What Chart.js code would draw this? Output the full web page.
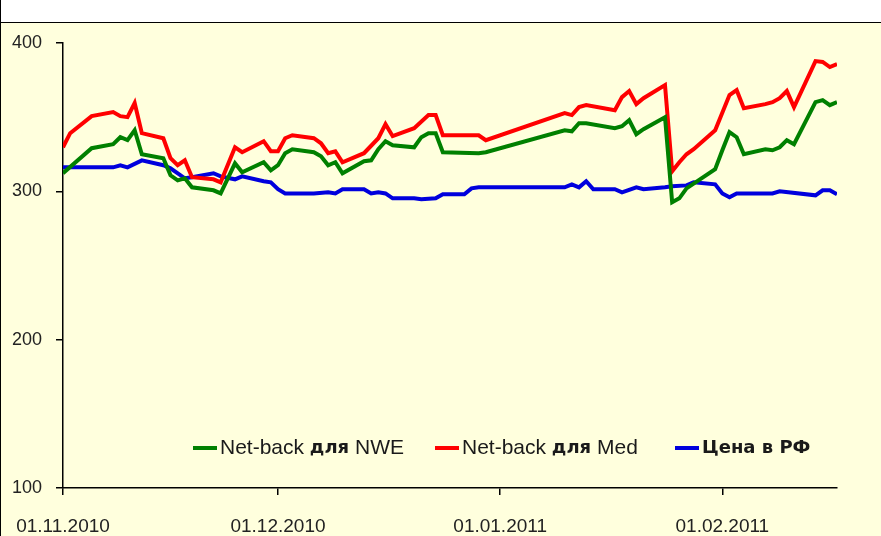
<!DOCTYPE html>
<html>
<head>
<meta charset="utf-8">
<script src="https://cdn.jsdelivr.net/npm/chart.js@4"></script>
<style>
  html, body { margin: 0; padding: 0; background: #fff; }
  #wrap { position: relative; width: 881px; height: 536px; overflow: hidden; }
  #lborder { position: absolute; left: 0; top: 0; width: 1px; height: 536px; background: #000; }
  #top { position: absolute; left: 1px; top: 0; width: 880px; height: 22px; background: #fff; border-bottom: 1px solid #000; }
  #plot { position: absolute; left: 1px; top: 23px; width: 880px; height: 513px; background: #FFFFDD; }
  canvas { display: block; }
</style>
</head>
<body>
<div id="wrap">
  <div id="lborder"></div>
  <div id="top"></div>
  <div id="plot"><canvas id="c" width="880" height="513" style="width:880px;height:513px"></canvas></div>
</div>
<script>
// ---- Data (x = days since 01.11.2010) ----
const nweDays = [0,4,7,8,9,10,11,14,15,16,17,18,21,22,24,25,28,29,30,31,32,35,36,37,38,39,42,43,44,45,46,49,50,51,52,53,58,59,70,71,72,73,77,78,79,80,81,84,85,86,87,91,92,93,94,95,98,99,100,101,102,105,106,107,108];
const nweValues = [312.2,329.1,331.8,336.5,334.5,341.2,325,322.3,310.8,307.4,308.8,302.7,300.7,298.6,318.9,312.8,319.6,314.2,317.6,325.7,328.4,326.4,323.6,317.6,319.6,312.2,320.3,320.9,328.4,333.8,331.1,329.7,336.5,339.2,339.2,326.4,325.7,326.4,341.2,340.5,345.9,345.9,342.6,343.9,348,338.5,341.9,350,292.6,295.3,302,314.9,327.7,339.9,336.5,325,328.4,327.7,329.7,334.5,331.8,360.1,361.5,358.1,360.1];

const medDays = [0,1,4,7,8,9,10,11,14,15,16,17,18,21,22,24,25,28,29,30,31,32,35,36,37,38,39,42,44,45,46,49,51,52,53,58,59,70,71,72,73,77,78,79,80,81,84,85,86,87,88,91,93,94,95,98,99,100,101,102,105,106,107,108];
const medValues = [329.7,339.2,350.7,353.4,350.7,350,359.5,339.2,335.8,322.3,317.6,320.9,309.5,308.1,306.1,329.7,326.4,333.8,327,327,335.8,337.8,335.8,332.4,325.7,327,319.6,325.7,335.8,345.3,337.2,342.6,351.4,351.4,337.8,337.8,334.5,352.7,351.4,356.8,358.1,354.7,363.5,367.6,358.8,362.8,371.6,313.5,319.6,325,328.4,341.2,364.9,368.2,356.1,358.8,360.1,362.8,367.6,356.8,387.8,387.2,383.8,385.8];

const rfDays = [0,7,8,9,11,14,15,17,18,21,22,24,25,28,29,30,31,35,37,38,39,42,43,44,45,46,49,50,52,53,56,57,58,70,71,72,73,74,77,78,80,81,84,85,87,88,91,92,93,94,99,100,105,106,107,108];
const rfValues = [316.2,316.2,317.6,316.2,320.9,317.6,315.5,308.8,309.5,312.2,310.1,308.1,310.1,306.8,306.1,301.4,298.6,298.6,299.3,298.6,301.4,301.4,298.6,299.3,298.6,295.3,295.3,294.6,295.3,298,298,302,302.7,302.7,304.7,302.7,306.8,301.4,301.4,299.3,302.7,301.4,302.7,303.4,304,306.1,304.7,298.6,296,298.6,298.6,300,297.3,300.7,300.7,298];

const tickDays = [0, 30, 61, 92];
const tickLabels = ['01.11.2010', '01.12.2010', '01.01.2011', '01.02.2011'];
const yTicks = [100, 200, 300, 400];

const seriesNames = ['Net-back для NWE', 'Net-back для Med', 'Цена в РФ'];
// legend text parts: [text, bold]
const legendParts = [
  [['Net-back ', false], ['для', true], [' NWE', false]],
  [['Net-back ', false], ['для', true], [' Med', false]],
  [['Цена в РФ', true]]
];
const colors = ['#008000', '#FF0000', '#0000DD'];

function pts(d, v) { return d.map((x, i) => ({ x: x, y: v[i] })); }

const legendPlugin = {
  id: 'mixedLegend',
  afterDraw(chart) {
    const ctx = chart.ctx;
    const starts = [192, 434, 674];
    const y = 425;
    ctx.save();
    chart.data.datasets.forEach((ds, i) => {
      const x0 = starts[i];
      ctx.strokeStyle = ds.borderColor;
      ctx.lineWidth = 4;
      ctx.beginPath();
      ctx.moveTo(x0, y);
      ctx.lineTo(x0 + 24, y);
      ctx.stroke();
      let x = x0 + 27;
      ctx.textBaseline = 'middle';
      ctx.fillStyle = '#1a1a1a';
      legendParts[i].forEach(([t, b]) => {
        ctx.font = b ? 'bold 18px "DejaVu Sans"' : '21px "Liberation Sans"';
        ctx.fillText(t, x, y);
        x += ctx.measureText(t).width;
      });
    });
    ctx.restore();
  }
};

new Chart(document.getElementById('c'), {
  type: 'line',
  data: {
    datasets: [
      { label: seriesNames[0], data: pts(nweDays, nweValues), borderColor: colors[0] },
      { label: seriesNames[1], data: pts(medDays, medValues), borderColor: colors[1] },
      { label: seriesNames[2], data: pts(rfDays, rfValues), borderColor: colors[2] }
    ].map(d => Object.assign(d, { borderWidth: 4, pointRadius: 0, tension: 0, fill: false, backgroundColor: d.borderColor }))
  },
  options: {
    responsive: false,
    animation: false,
    layout: { padding: { top: 20, right: 44, left: 0, bottom: 0 } },
    plugins: { legend: { display: false }, tooltip: { enabled: false }, title: { display: false } },
    scales: {
      x: {
        type: 'linear',
        min: tickDays[0],
        max: 108,
        afterBuildTicks: (s) => { s.ticks = tickDays.map(v => ({ value: v })); },
        afterFit: (s) => { s.height = 48; s.paddingLeft = 0; s.paddingRight = 0; },
        ticks: {
          autoSkip: false,
          maxRotation: 0,
          padding: 20,
          color: '#222',
          font: { family: 'Liberation Sans', size: 19 },
          callback: (v) => { const i = tickDays.indexOf(v); return i >= 0 ? tickLabels[i] : ''; }
        },
        grid: { drawOnChartArea: false, drawTicks: true, tickLength: 7, color: '#000', lineWidth: 1.5 },
        border: { display: true, color: '#000', width: 1.5 }
      },
      y: {
        min: 100,
        max: 400,
        afterBuildTicks: (s) => { s.ticks = yTicks.map(v => ({ value: v })); },
        afterFit: (s) => { s.width = 62; s.paddingTop = 0; s.paddingBottom = 0; },
        ticks: {
          padding: 14,
          color: '#222',
          font: { family: 'Liberation Sans', size: 18 }
        },
        grid: { drawOnChartArea: false, drawTicks: true, tickLength: 7, color: '#000', lineWidth: 1.5 },
        border: { display: true, color: '#000', width: 1.5 }
      }
    }
  },
  plugins: [legendPlugin]
});
</script>
</body>
</html>
